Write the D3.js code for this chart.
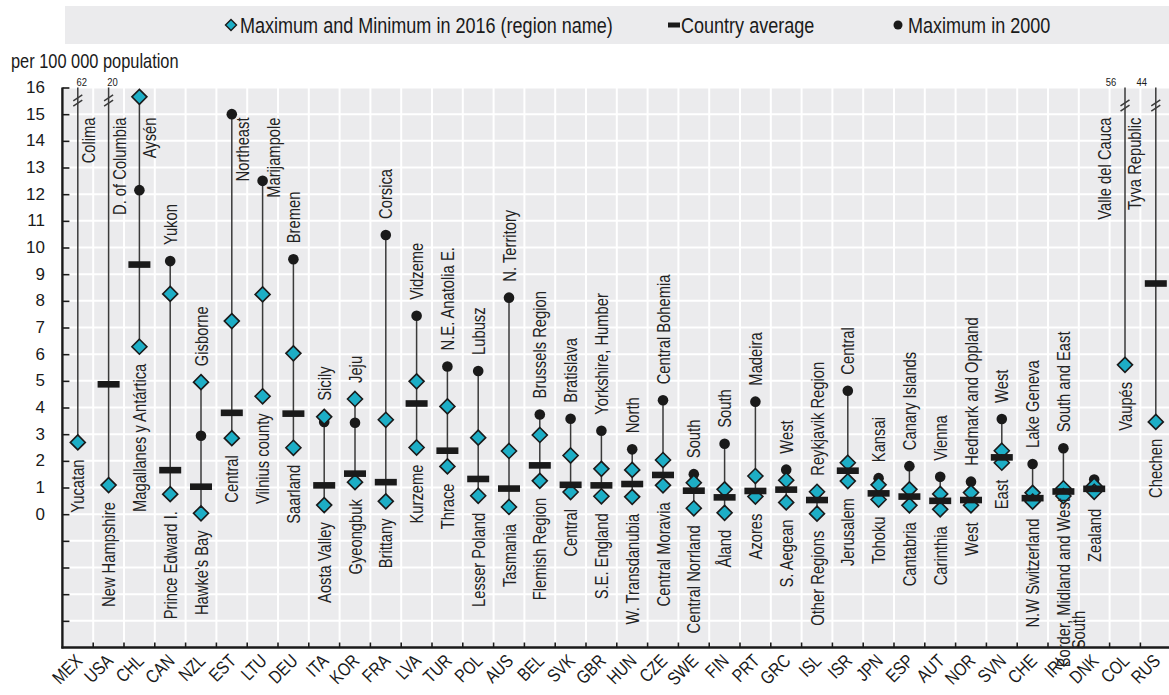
<!DOCTYPE html>
<html><head><meta charset="utf-8">
<script src="https://cdn.jsdelivr.net/npm/d3@7"></script>
<style>body{margin:0;background:#fff;} svg{display:block}</style>
</head><body><svg id="c" width="1169" height="695"></svg>
<script>
// ---------------- DATA ----------------
const countries = ["MEX","USA","CHL","CAN","NZL","EST","LTU","DEU","ITA","KOR","FRA","LVA","TUR","POL","AUS","BEL","SVK","GBR","HUN","CZE","SWE","FIN","PRT","GRC","ISL","ISR","JPN","ESP","AUT","NOR","SVN","CHE","IRL","DNK","COL","RUS"];
const max2016 = [62,20,15.65,8.26,4.95,7.24,8.24,6.03,3.65,4.32,3.54,4.98,4.04,2.87,2.37,2.97,2.2,1.7,1.66,2.03,1.18,0.93,1.43,1.27,0.84,1.93,1.1,0.93,0.76,0.81,2.38,0.8,0.97,1.07,56,44];
const min2016 = [2.69,1.09,6.28,0.75,0.03,2.85,4.42,2.49,0.34,1.2,0.48,2.5,1.79,0.69,0.27,1.25,0.83,0.67,0.65,1.08,0.22,0.05,0.66,0.44,0.02,1.24,0.55,0.33,0.18,0.33,1.93,0.47,0.68,0.84,5.6,3.46];
const countryAvg = [null,4.87,9.36,1.65,1.03,3.8,null,3.77,1.08,1.52,1.2,4.15,2.38,1.32,0.96,1.83,1.1,1.08,1.13,1.47,0.88,0.63,0.87,0.92,0.53,1.63,0.78,0.66,0.5,0.53,2.13,0.6,0.85,0.95,null,8.65];
const max2000 = [null,null,12.15,9.49,2.94,15.0,12.5,9.56,3.46,3.43,10.47,7.44,5.54,5.37,8.12,3.74,3.58,3.13,2.43,4.27,1.5,2.64,4.22,1.67,0.8,4.63,1.35,1.8,1.4,1.22,3.57,1.88,2.47,1.3,null,null];
const maxRegion = ["Colima","D. of Columbia","Aysén","Yukon","Gisborne","Northeast","Marijampole","Bremen","Sicily","Jeju","Corsica","Vidzeme","N.E. Anatolia E.","Lubusz","N. Territory","Brussels Region","Bratislava","Yorkshire, Humber","North","Central Bohemia","South","South","Madeira","West","Reykjavik Region","Central","Kansai","Canary Islands","Vienna","Hedmark and Oppland","West","Lake Geneva","South and East","","Valle del Cauca","Tyva Republic"];
const minRegion = ["Yucatan","New Hampshire","Magallanes y Antártica","Prince Edward I.","Hawke's Bay","Central","Vilnius county","Saarland","Aosta Valley","Gyeongbuk","Brittany","Kurzeme","Thrace","Lesser Poland","Tasmania","Flemish Region","Central","S.E. England","W. Transdanubia","Central Moravia","Central Norrland","Åland","Azores","S. Aegean","Other Regions","Jerusalem","Tohoku","Cantabria","Carinthia","West","East","N.W Switzerland","Border, Midland and West\nSouth","Zealand","Vaupés","Chechen"];
const yTickValues = [0,1,2,3,4,5,6,7,8,9,10,11,12,13,14,15,16];
const yDomain = [-5,16];
const legendLabels = ["Maximum and Minimum in 2016 (region name)","Country average","Maximum in 2000"];
const unitLabel = "per 100 000 population";

(function(){
// ---------------- FONTS ----------------
function hasFont(name){
  const c=document.createElement('canvas').getContext('2d');
  const s="abcdefghijklmnopqrstuvwxyzABCDEFGHIJ0123456789";
  c.font="60px monospace"; const w0=c.measureText(s).width;
  c.font=`60px '${name}', monospace`; const w1=c.measureText(s).width;
  return Math.abs(w0-w1)>1;
}
let narrowName = null;
if (hasFont("Liberation Sans Narrow")) narrowName="'Liberation Sans Narrow'";
else if (hasFont("Arial Narrow")) narrowName="'Arial Narrow'";
const NF = narrowName ? narrowName+", 'Liberation Sans', Arial, sans-serif" : "'Liberation Sans', Arial, sans-serif";
const SX = narrowName ? 1 : 0.82;   // horizontal condensation to mimic a narrow face
const RF = "'Liberation Sans', Arial, sans-serif";

// ---------------- LAYOUT ----------------
const W=1169;
const pL=62.4, step=30.8, pT=87.5, pB=647.5;
const BG="#EBEBED", TEAL="#1DAEC6", INK="#1a1a1a", STEM="#3a3a3a";

const svg=d3.select("#c");
const x=d3.scaleBand().domain(countries).range([pL, pL+step*countries.length]).padding(0);
const y=d3.scaleLinear().domain(yDomain).range([pB, pT]);
const yc = v => y(Math.min(v, yDomain[1]));
const xc = c => x(c)+x.bandwidth()/2;
const sc = `scale(${SX},1)`;

// legend
svg.append("rect").attr("x",65).attr("y",6).attr("width",W-65).attr("height",38).attr("fill",BG);
const ly=25;
const dia = r => `M0,${-r}L${r},0L0,${r}L${-r},0Z`;
svg.append("path").attr("d",dia(5.5)).attr("transform",`translate(231,${ly})`).attr("fill",TEAL).attr("stroke",INK).attr("stroke-width",1.4);
const lt = svg.append("g").attr("font-family",NF).attr("font-size",22).attr("fill",INK).attr("dominant-baseline","central");
lt.append("text").attr("transform",`translate(240,${ly}) ${sc}`).text(legendLabels[0]);
svg.append("rect").attr("x",668).attr("y",ly-2.5).attr("width",12).attr("height",5).attr("fill",INK);
lt.append("text").attr("transform",`translate(681,${ly}) ${sc}`).text(legendLabels[1]);
svg.append("circle").attr("cx",898).attr("cy",ly).attr("r",4.5).attr("fill",INK);
lt.append("text").attr("transform",`translate(908,${ly}) ${sc}`).text(legendLabels[2]);

// unit label
svg.append("text").attr("transform",`translate(11,61) ${sc}`).attr("dominant-baseline","central")
  .attr("font-family",NF).attr("font-size",20).attr("fill",INK).text(unitLabel);

// plot background
svg.append("rect").attr("x",pL).attr("y",pT).attr("width",W-pL).attr("height",pB-pT).attr("fill",BG);

// gridlines
const grid=svg.append("g").attr("stroke","#fff").attr("stroke-width",2);
d3.range(yDomain[0]+1, yDomain[1]+1).forEach(v=>{
  grid.append("line").attr("x1",pL).attr("x2",W).attr("y1",y(v)).attr("y2",y(v));
});
countries.forEach((c,i)=>{ if(i>0) grid.append("line").attr("x1",x(c)).attr("x2",x(c)).attr("y1",pT).attr("y2",pB); });

// axes
const yAxis = d3.axisRight(y).tickValues(d3.range(yDomain[0]+1,yDomain[1]+1)).tickSize(7).tickFormat("");
const gy = svg.append("g").attr("transform",`translate(${pL},0)`).call(yAxis);
gy.select(".domain").remove();
gy.selectAll(".tick line").attr("stroke",INK).attr("stroke-width",1.6);
svg.append("g").selectAll("text").data(yTickValues).join("text")
  .attr("x",45).attr("y",d=>y(d)).attr("text-anchor","end").attr("dominant-baseline","central")
  .attr("font-family",RF).attr("font-size",17).attr("fill",INK).text(d=>d);

const bounds = countries.slice(1).map(c=>x(c));
svg.append("g").selectAll("line").data(bounds).join("line")
  .attr("x1",d=>d).attr("x2",d=>d).attr("y1",pB-5).attr("y2",pB).attr("stroke",INK).attr("stroke-width",1.6);
svg.append("line").attr("x1",pL).attr("x2",pL).attr("y1",pT).attr("y2",pB+1).attr("stroke",INK).attr("stroke-width",2.4);
svg.append("line").attr("x1",pL-1).attr("x2",W).attr("y1",pB).attr("y2",pB).attr("stroke",INK).attr("stroke-width",2.4);

// x labels
svg.append("g").selectAll("text").data(countries).join("text")
  .attr("transform",c=>`translate(${xc(c)+5.5},662) rotate(-45) ${sc}`)
  .attr("text-anchor","end").attr("font-family",NF).attr("font-size",18.5).attr("fill",INK).text(c=>c);

// marks
const rows = countries.map((c,i)=>({c,i,mx:max2016[i],mn:min2016[i],avg:countryAvg[i],m0:max2000[i],rmax:maxRegion[i],rmin:minRegion[i]}));
const marks=svg.append("g");
rows.forEach(r=>{
  const vals=[r.mx,r.mn,r.avg,r.m0].filter(v=>v!=null);
  const hi=d3.max(vals), lo=d3.min(vals);
  marks.append("line").attr("x1",xc(r.c)).attr("x2",xc(r.c)).attr("y1",yc(hi)).attr("y2",y(lo))
    .attr("stroke",STEM).attr("stroke-width",1.5);
});
const broken = rows.filter(r=>r.mx>yDomain[1]);
broken.forEach(r=>{
  const cx=xc(r.c), right = r.i < countries.length/2;
  const by = right ? pT+13 : pT+18;
  [-2.6,2.6].forEach(o=>{
    marks.append("line").attr("x1",cx-4.5).attr("x2",cx+4.5).attr("y1",by+o+3).attr("y2",by+o-3)
      .attr("stroke",STEM).attr("stroke-width",1.5);
  });
  svg.append("text").attr("transform",`translate(${right?cx+4:cx-14},${pT-2}) ${sc}`).attr("text-anchor","middle")
    .attr("font-family",NF).attr("font-size",11.5).attr("fill",INK).text(r.mx);
});
marks.selectAll(".d0").data(rows.filter(r=>r.m0!=null)).join("circle")
  .attr("cx",r=>xc(r.c)).attr("cy",r=>y(r.m0)).attr("r",5.3).attr("fill",INK);
const diamonds = [];
rows.forEach(r=>{ if(r.mx<=yDomain[1]) diamonds.push({c:r.c,v:r.mx}); diamonds.push({c:r.c,v:r.mn}); });
marks.selectAll(".dm").data(diamonds).join("path")
  .attr("d",dia(7.5)).attr("transform",d=>`translate(${xc(d.c)},${y(d.v)})`)
  .attr("fill",TEAL).attr("stroke",INK).attr("stroke-width",1.6);
marks.selectAll(".av").data(rows.filter(r=>r.avg!=null)).join("rect")
  .attr("x",r=>xc(r.c)-11).attr("y",r=>y(r.avg)-3.3).attr("width",22).attr("height",6.6).attr("fill",INK);

// region labels
const labG = svg.append("g").attr("font-family",NF).attr("font-size",18).attr("fill","#222");
rows.forEach(r=>{
  const cx=xc(r.c);
  if(r.rmax){
    const hi=d3.max([r.mx,r.m0].filter(v=>v!=null));
    const startY = yc(hi)-16;
    const t=labG.append("text").attr("dominant-baseline","central").text(r.rmax);
    const len=t.node().getComputedTextLength()*SX;
    if(startY-len < pT+2 || hi>yDomain[1]){
      const right = r.i < countries.length/2;
      const lx = right ? cx+10.5 : cx-21;
      t.attr("text-anchor","end").attr("transform",`translate(${lx},${pT+30}) rotate(-90) ${sc}`);
    } else {
      t.attr("text-anchor","start").attr("transform",`translate(${cx},${startY}) rotate(-90) ${sc}`);
    }
  }
  if(r.rmin){
    const lines=r.rmin.split("\n");
    const ty=y(r.mn)+(lines.length>1 ? 2 : 17);
    const t=labG.append("text").attr("dominant-baseline","central").attr("text-anchor","end")
      .attr("transform",`translate(${cx},${ty}) rotate(-90) ${sc}`).text(lines[0]);
    if(lines.length>1){
      const len=t.node().getComputedTextLength()*SX;
      labG.append("text").attr("dominant-baseline","central").attr("text-anchor","start")
        .attr("transform",`translate(${cx+15},${ty+len-18}) rotate(-90) ${sc}`).text(lines[1]);
    }
  }
});
})();
</script></body></html>
